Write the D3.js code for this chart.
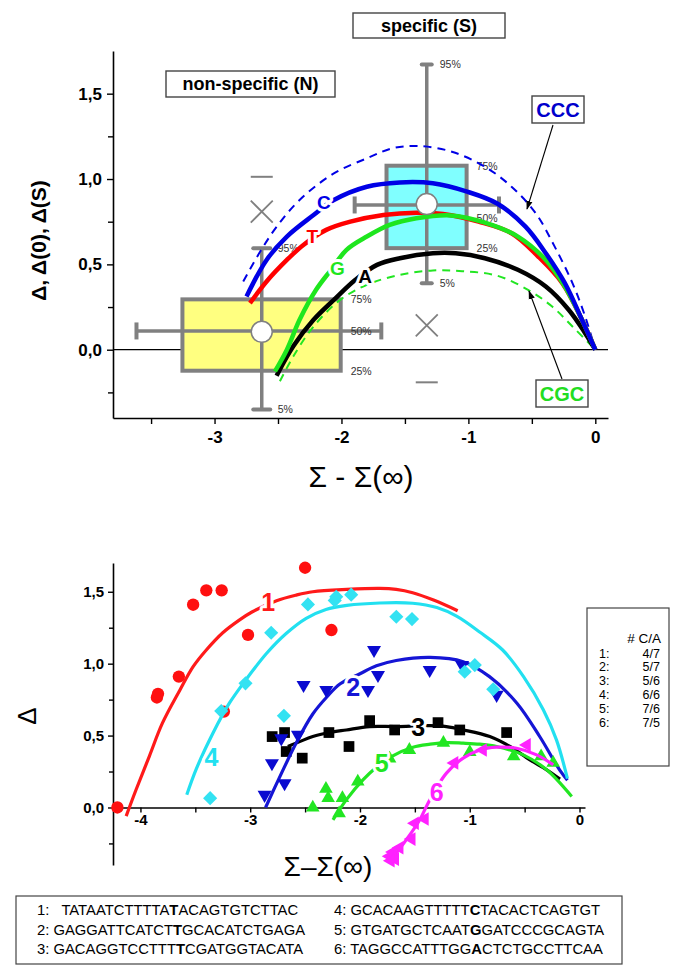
<!DOCTYPE html>
<html>
<head>
<meta charset="utf-8">
<script src="https://cdn.jsdelivr.net/npm/d3@7"></script>
<style>
  body { margin: 0; background: #fff; }
  svg text { font-family: "Liberation Sans", Arial, sans-serif; }
</style>
</head>
<body>
<div id="chart"></div>
<script>
// ---------- top panel: model curves, [Σ-Σ(∞), Δ] ----------
const curveC   = [[-2.748,0.312],[-2.59,0.526],[-2.43,0.663],[-2.22,0.789],[-2.06,0.877],[-1.80,0.955],[-1.54,0.98],[-1.28,0.975],[-1.01,0.926],[-0.77,0.855],[-0.55,0.721],[-0.39,0.565],[-0.24,0.39],[-0.105,0.175],[0,0]];
const curveT   = [[-2.721,0.273],[-2.59,0.40],[-2.43,0.526],[-2.30,0.614],[-2.12,0.702],[-1.93,0.75],[-1.67,0.789],[-1.41,0.803],[-1.2,0.795],[-0.92,0.75],[-0.66,0.682],[-0.45,0.546],[-0.26,0.39],[-0.105,0.175],[0,0]];
const curveG   = [[-2.524,-0.127],[-2.43,0.0],[-2.33,0.175],[-2.20,0.351],[-2.08,0.47],[-1.96,0.585],[-1.80,0.663],[-1.62,0.731],[-1.41,0.77],[-1.14,0.787],[-0.87,0.745],[-0.61,0.663],[-0.39,0.526],[-0.24,0.37],[-0.105,0.175],[0,0]];
const curveA   = [[-2.511,-0.152],[-2.38,0.02],[-2.22,0.175],[-2.06,0.292],[-1.89,0.41],[-1.72,0.497],[-1.54,0.536],[-1.28,0.565],[-1.1,0.565],[-0.87,0.536],[-0.61,0.468],[-0.39,0.37],[-0.21,0.234],[-0.08,0.097],[0,0]];
const curveCCC = [[-2.774,0.40],[-2.64,0.575],[-2.51,0.721],[-2.33,0.877],[-2.06,1.033],[-1.80,1.121],[-1.6,1.18],[-1.39,1.193],[-1.13,1.16],[-0.87,1.072],[-0.66,0.955],[-0.47,0.80],[-0.32,0.604],[-0.18,0.39],[-0.08,0.195],[0,0]];
const curveCGC = [[-2.485,-0.185],[-2.38,-0.04],[-2.22,0.136],[-2.01,0.292],[-1.80,0.38],[-1.54,0.439],[-1.28,0.464],[-1.05,0.46],[-0.78,0.435],[-0.53,0.351],[-0.34,0.253],[-0.18,0.136],[0,0]];

const curveNames  = ["C", "T", "G", "A"];
const curveLabelX = [-2.138, -2.230, -2.033, -1.814];
const curveLabelY = [0.867, 0.667, 0.478, 0.429];

// box charts: non-specific (N), specific (S)
const boxNames = ["N", "S"];
const boxXmean = [-2.628, -1.328];
const boxXq1   = [-3.253, -1.645];
const boxXq3   = [-2.006, -1.014];
const boxXmin  = [-3.615, -1.896];
const boxXmax  = [-1.686, -0.759];
const boxYq1   = [-0.123, 0.595];
const boxYq3   = [0.295, 1.078];
const boxY5    = [-0.35, 0.39];
const boxY95   = [0.594, 1.671];
const boxYmed  = [0.11, 0.77];
const boxYmean = [0.105, 0.853];
const boxYbar  = [0.11, 0.848];
const boxCross = [0.809, 0.142];
const boxDash  = [1.013, -0.191];

// ---------- bottom panel: measured points and fits ----------
const pts1 = [[-4.21,0.0],[-3.85,0.765],[-3.84,0.79],[-3.65,0.91],[-3.52,1.41],[-3.40,1.51],[-3.26,1.51],[-3.24,0.667],[-3.02,1.20],[-2.50,1.667],[-2.26,1.234]];
const fit1 = [[-4.13,-0.06],[-4.04,0.123],[-3.92,0.354],[-3.80,0.586],[-3.64,0.817],[-3.52,0.979],[-3.40,1.095],[-3.25,1.215],[-3.10,1.303],[-2.98,1.361],[-2.76,1.438],[-2.58,1.477],[-2.43,1.50],[-2.12,1.516],[-1.82,1.523],[-1.67,1.516],[-1.52,1.493],[-1.33,1.442],[-1.11,1.368]];
const pts2 = [[-2.869,0.088],[-2.802,0.308],[-2.717,0.481],[-2.687,0.169],[-2.565,0.505],[-2.514,0.852],[-2.307,0.817],[-1.927,0.817],[-1.872,1.095],[-1.836,0.921],[-1.365,0.956],[-1.07,0.99],[-0.755,0.783]];
const fit2 = [[-2.86,0.0],[-2.72,0.23],[-2.58,0.45],[-2.43,0.65],[-2.30,0.77],[-2.18,0.86],[-2.0,0.93],[-1.85,0.985],[-1.67,1.022],[-1.36,1.044],[-1.06,1.014],[-0.82,0.91],[-0.57,0.725],[-0.36,0.49],[-0.18,0.26],[-0.11,0.19]];
const pts3 = [[-2.80,0.493],[-2.687,0.521],[-2.672,0.389],[-2.526,0.343],[-2.283,0.521],[-2.10,0.424],[-1.912,0.604],[-1.684,0.539],[-1.289,0.59],[-1.091,0.539],[-0.664,0.521]];
const fit3 = [[-2.657,0.424],[-2.55,0.458],[-2.43,0.493],[-2.277,0.521],[-2.125,0.539],[-1.912,0.5625],[-1.669,0.5625],[-1.365,0.569],[-1.213,0.5625],[-1.06,0.54],[-0.817,0.493],[-0.634,0.424],[-0.452,0.331],[-0.299,0.262],[-0.178,0.197]];
const pts4 = [[-3.365,0.065],[-3.264,0.671],[-3.043,0.863],[-2.809,1.215],[-2.693,0.637],[-2.474,1.412],[-2.23,1.44],[-2.216,1.465],[-2.08,1.48],[-1.669,1.326],[-1.526,1.31],[-1.046,0.944],[-0.954,0.99],[-0.786,0.822]];
const fit4 = [[-3.578,0.088],[-3.49,0.27],[-3.34,0.516],[-3.19,0.725],[-3.04,0.887],[-2.85,1.072],[-2.67,1.211],[-2.49,1.315],[-2.31,1.377],[-2.12,1.405],[-1.82,1.422],[-1.52,1.42],[-1.30,1.39],[-1.12,1.33],[-0.91,1.22],[-0.70,1.095],[-0.51,0.91],[-0.33,0.68],[-0.21,0.47],[-0.11,0.2]];
const pts5 = [[-2.43,0.0],[-2.31,0.13],[-2.29,0.065],[-2.16,0.065],[-2.19,-0.04],[-2.02,0.18],[-1.73,0.34],[-1.55,0.40],[-1.24,0.45],[-1.0,0.385],[-0.60,0.355],[-0.35,0.355],[-0.24,0.31]];
const fit5 = [[-2.246,-0.086],[-2.125,0.053],[-1.973,0.192],[-1.85,0.28],[-1.714,0.354],[-1.517,0.419],[-1.36,0.44],[-1.213,0.451],[-1.06,0.447],[-0.909,0.44],[-0.755,0.424],[-0.513,0.366],[-0.299,0.262],[-0.071,0.076]];
const pts6 = [[-1.41,-0.08],[-1.50,-0.11],[-1.53,-0.22],[-1.64,-0.28],[-1.70,-0.31],[-1.73,-0.34],[-1.68,-0.36],[-1.72,-0.37],[-1.14,0.31],[-0.88,0.40],[-0.48,0.435]];
const fit6 = [[-1.714,-0.363],[-1.577,-0.224],[-1.455,-0.085],[-1.38,0.03],[-1.30,0.14],[-1.212,0.239],[-1.06,0.343],[-0.908,0.40],[-0.755,0.419],[-0.573,0.412],[-0.39,0.366],[-0.239,0.297]];

const seriesIds    = ["1", "2", "3", "4", "5", "6"];
const seriesLabelX = [-2.837, -2.062, -1.469, -3.353, -1.803, -1.302];
const seriesLabelY = [1.43, 0.84, 0.5625, 0.354, 0.308, 0.111];
const ratioCA      = ["4/7", "5/7", "5/6", "6/6", "7/6", "7/5"];

const sequences = [
    "TATAATCTTTTATACAGTGTCTTAC",
    "GAGGATTCATCTTGCACATCTGAGA",
    "GACAGGTCCTTTTCGATGGTACATA",
    "GCACAAGTTTTTCTACACTCAGTGT",
    "GTGATGCTCAATGGATCCCGCAGTA",
    "TAGGCCATTTGGACTCTGCCTTCAA"
];

const xTickTop = [-3, -2, -1, 0],
      xMinorTop = [-3.5, -2.5, -1.5, -0.5],
      yTickTop = [0, 0.5, 1, 1.5],
      yMinorTop = [-0.25, 0.25, 0.75, 1.25];
const xTickBot = [-4, -3, -2, -1, 0],
      xMinorBot = [-3.5, -2.5, -1.5, -0.5],
      yTickBot = [0, 0.5, 1, 1.5],
      yMinorBot = [-0.25, 0.25, 0.75, 1.25];

const comma = function(d) { return d3.format(".1f")(d).replace(".", ","); };
const plain = function(d) { return String(d); };

const svg = d3.select("#chart").append("svg")
    .attr("width", 685)
    .attr("height", 978);

const defs = svg.append("defs");
defs.append("marker")
    .attr("id", "arrow")
    .attr("viewBox", "0 0 10 10")
    .attr("refX", 9).attr("refY", 5)
    .attr("markerWidth", 9).attr("markerHeight", 9)
    .attr("markerUnits", "userSpaceOnUse")
    .attr("orient", "auto")
    .append("path")
    .attr("d", "M0,1.5L10,5L0,8.5Z")
    .attr("fill", "#000");

function styleAxis(g, size, bold) {
    g.attr("font-family", null).attr("font-size", null);
    g.select(".domain").attr("stroke", "#000").attr("stroke-width", 1.6);
    g.selectAll(".tick line").attr("stroke", "#000").attr("stroke-width", 1.4);
    g.selectAll(".tick text")
        .attr("font-size", size)
        .attr("font-weight", bold ? "bold" : null)
        .attr("fill", "#000");
}

function halo(sel) {
    return sel.attr("stroke", "#fff")
        .attr("stroke-width", 6)
        .attr("stroke-linejoin", "round")
        .attr("paint-order", "stroke");
}

// ================= TOP PANEL =================
const xTop = d3.scaleLinear().domain([-3.8, 0.1]).range([113, 608]),
      yTop = d3.scaleLinear().domain([-0.4, 1.75]).range([418, 51]);

const topG = svg.append("g");

topG.append("g")
    .attr("transform", `translate(0,${yTop.range()[0]})`)
    .call(d3.axisBottom(xTop).tickValues(xMinorTop).tickFormat("").tickSize(6).tickSizeOuter(0))
    .call(function(g) { styleAxis(g, 16, true); });
topG.append("g")
    .attr("transform", `translate(0,${yTop.range()[0]})`)
    .call(d3.axisBottom(xTop).tickValues(xTickTop).tickFormat(plain).tickSize(6).tickPadding(7).tickSizeOuter(0))
    .call(function(g) { styleAxis(g, 17, true); g.select(".domain").remove(); });
topG.append("g")
    .attr("transform", `translate(${xTop.range()[0]},0)`)
    .call(d3.axisLeft(yTop).tickValues(yMinorTop).tickFormat("").tickSize(5).tickSizeOuter(0))
    .call(function(g) { styleAxis(g, 16, true); });
topG.append("g")
    .attr("transform", `translate(${xTop.range()[0]},0)`)
    .call(d3.axisLeft(yTop).tickValues(yTickTop).tickFormat(comma).tickSize(6).tickPadding(5).tickSizeOuter(0))
    .call(function(g) { styleAxis(g, 17, true); g.select(".domain").remove(); });

topG.append("line")
    .attr("x1", xTop.range()[0]).attr("x2", xTop.range()[1])
    .attr("y1", yTop(0)).attr("y2", yTop(0))
    .attr("stroke", "#000").attr("stroke-width", 1.3);

topG.append("text")
    .attr("transform", `translate(46,${(yTop.range()[0] + yTop.range()[1]) / 2 + 6}) rotate(-90)`)
    .attr("text-anchor", "middle")
    .attr("font-size", 21).attr("font-weight", "bold")
    .text("Δ, Δ(0), Δ(S)");

topG.append("text")
    .attr("x", 361).attr("y", 487)
    .attr("text-anchor", "middle")
    .attr("font-size", 30)
    .text("Σ - Σ(∞)");

// box charts
const boxFill = ["#ffff80", "#80ffff"],
      capW = [17, 10],
      gray = "#808080";

topG.append("g")
    .selectAll("g")
    .data(boxNames)
    .join("g")
    .each(function(name, i) {
        const g = d3.select(this);
        const cx = xTop(boxXmean[i]);
        g.append("rect")
            .attr("x", xTop(boxXq1[i]))
            .attr("y", yTop(boxYq3[i]))
            .attr("width", xTop(boxXq3[i]) - xTop(boxXq1[i]))
            .attr("height", yTop(boxYq1[i]) - yTop(boxYq3[i]))
            .attr("fill", boxFill[i])
            .attr("stroke", gray).attr("stroke-width", 4);
        // vertical whisker
        g.append("line")
            .attr("x1", cx).attr("x2", cx)
            .attr("y1", yTop(boxY95[i])).attr("y2", yTop(boxY5[i]))
            .attr("stroke", gray).attr("stroke-width", 3.5);
        [boxY95[i], boxY5[i]].forEach(function(v) {
            g.append("line")
                .attr("x1", cx - capW[i] / 2).attr("x2", cx + capW[i] / 2)
                .attr("y1", yTop(v)).attr("y2", yTop(v))
                .attr("stroke", gray).attr("stroke-width", 4).attr("stroke-linecap", "round");
        });
        // horizontal whisker
        const by = yTop(boxYbar[i]);
        g.append("line")
            .attr("x1", xTop(boxXmin[i])).attr("x2", xTop(boxXmax[i]))
            .attr("y1", by).attr("y2", by)
            .attr("stroke", gray).attr("stroke-width", 3.5);
        [boxXmin[i], boxXmax[i]].forEach(function(v) {
            g.append("line")
                .attr("x1", xTop(v)).attr("x2", xTop(v))
                .attr("y1", by - 8.5).attr("y2", by + 8.5)
                .attr("stroke", gray).attr("stroke-width", 4);
        });
        // 1%/99% cross and min/max dash
        const cy = yTop(boxCross[i]);
        g.append("path")
            .attr("d", `M${cx - 11},${cy - 11}L${cx + 11},${cy + 11}M${cx - 11},${cy + 11}L${cx + 11},${cy - 11}`)
            .attr("stroke", gray).attr("stroke-width", 1.8);
        g.append("line")
            .attr("x1", cx - 11).attr("x2", cx + 11)
            .attr("y1", yTop(boxDash[i])).attr("y2", yTop(boxDash[i]))
            .attr("stroke", gray).attr("stroke-width", 2);
        // percent labels
        const rx = xTop(boxXq3[i]) + 10,
              wx = cx + (i === 0 ? 16 : 13);
        const pl = [[wx, boxY95[i], "95%"], [rx, boxYq3[i], "75%"], [rx, boxYmed[i], "50%"],
                    [rx, boxYq1[i], "25%"], [wx, boxY5[i], "5%"]];
        pl.forEach(function(p) {
            g.append("text")
                .attr("x", p[0]).attr("y", yTop(p[1]) + 4)
                .attr("font-size", 10.5).attr("fill", "#333")
                .text(p[2]);
        });
    });

// curves
const lineTop = d3.line()
    .curve(d3.curveCatmullRom)
    .x(function(d) { return xTop(d[0]); })
    .y(function(d) { return yTop(d[1]); });

const topCurves = [
    { key: "CGC", data: curveCGC, stroke: "#22e622", width: 2, dash: "8,6" },
    { key: "CCC", data: curveCCC, stroke: "#0000e6", width: 2, dash: "8,6" },
    { key: "A", data: curveA, stroke: "#000000", width: 4.5, dash: null },
    { key: "T", data: curveT, stroke: "#ff0000", width: 4.5, dash: null },
    { key: "G", data: curveG, stroke: "#1ee61e", width: 4.5, dash: null },
    { key: "C", data: curveC, stroke: "#0000e6", width: 4.5, dash: null }
];

topG.append("g")
    .selectAll("path")
    .data(topCurves)
    .join("path")
    .attr("d", function(d) { return lineTop(d.data); })
    .attr("fill", "none")
    .attr("stroke", function(d) { return d.stroke; })
    .attr("stroke-width", function(d) { return d.width; })
    .attr("stroke-dasharray", function(d) { return d.dash ? d.dash : null; })
    .attr("stroke-linecap", "butt");

const curveColour = { C: "#0000e6", T: "#ff0000", G: "#1ee61e", A: "#000000" };
topG.append("g")
    .selectAll("text")
    .data(curveNames)
    .join("text")
    .attr("x", function(d, i) { return xTop(curveLabelX[i]); })
    .attr("y", function(d, i) { return yTop(curveLabelY[i]) + 7; })
    .attr("text-anchor", "middle")
    .attr("font-size", 19).attr("font-weight", "bold")
    .attr("fill", function(d) { return curveColour[d]; })
    .call(halo)
    .text(function(d) { return d; });

// mean circles on top of the whiskers
topG.append("g")
    .selectAll("circle")
    .data(boxNames)
    .join("circle")
    .attr("cx", function(d, i) { return xTop(boxXmean[i]); })
    .attr("cy", function(d, i) { return yTop(boxYmean[i]); })
    .attr("r", 10.5)
    .attr("fill", "#fff")
    .attr("stroke", gray).attr("stroke-width", 1.5);

// title boxes
const titleBoxes = [
    { text: "specific (S)", x: 353, y: 13, w: 152, h: 25, colour: "#000", size: 18 },
    { text: "non-specific (N)", x: 166, y: 71, w: 169, h: 26, colour: "#000", size: 18 },
    { text: "CCC", x: 532, y: 96, w: 52, h: 27, colour: "#0000cc", size: 20 },
    { text: "CGC", x: 536, y: 380, w: 52, h: 27, colour: "#22dd22", size: 20 }
];
topG.append("g")
    .selectAll("g")
    .data(titleBoxes)
    .join("g")
    .call(function(g) {
        g.append("rect")
            .attr("x", function(d) { return d.x; })
            .attr("y", function(d) { return d.y; })
            .attr("width", function(d) { return d.w; })
            .attr("height", function(d) { return d.h; })
            .attr("fill", "#fff")
            .attr("stroke", "#444").attr("stroke-width", 1.4);
        g.append("text")
            .attr("x", function(d) { return d.x + d.w / 2; })
            .attr("y", function(d) { return d.y + d.h / 2 + d.size * 0.36; })
            .attr("text-anchor", "middle")
            .attr("font-size", function(d) { return d.size; })
            .attr("font-weight", "bold")
            .attr("fill", function(d) { return d.colour; })
            .text(function(d) { return d.text; });
    });

topG.append("line")
    .attr("x1", 553).attr("y1", 125).attr("x2", 527).attr("y2", 209)
    .attr("stroke", "#000").attr("stroke-width", 1.1).attr("marker-end", "url(#arrow)");
topG.append("line")
    .attr("x1", 562).attr("y1", 379).attr("x2", 529).attr("y2", 291)
    .attr("stroke", "#000").attr("stroke-width", 1.1).attr("marker-end", "url(#arrow)");

// ================= BOTTOM PANEL =================
const xBot = d3.scaleLinear().domain([-4.25, 0.05]).range([113, 585]),
      yBot = d3.scaleLinear().domain([-0.4, 1.7]).range([865, 563]);

const botG = svg.append("g");

botG.append("g")
    .attr("transform", `translate(0,${yBot(0)})`)
    .call(d3.axisBottom(xBot).tickValues(xMinorBot).tickFormat("").tickSize(5).tickSizeOuter(0))
    .call(function(g) { styleAxis(g, 15, true); });
botG.append("g")
    .attr("transform", `translate(0,${yBot(0)})`)
    .call(d3.axisBottom(xBot).tickValues(xTickBot).tickFormat(plain).tickSize(5).tickPadding(2).tickSizeOuter(0))
    .call(function(g) { styleAxis(g, 15, true); g.select(".domain").remove(); });
botG.append("g")
    .attr("transform", `translate(${xBot.range()[0]},0)`)
    .call(d3.axisLeft(yBot).tickValues(yMinorBot).tickFormat("").tickSize(4).tickSizeOuter(0))
    .call(function(g) { styleAxis(g, 15, true); });
botG.append("g")
    .attr("transform", `translate(${xBot.range()[0]},0)`)
    .call(d3.axisLeft(yBot).tickValues(yTickBot).tickFormat(comma).tickSize(5).tickPadding(4).tickSizeOuter(0))
    .call(function(g) { styleAxis(g, 15, true); g.select(".domain").remove(); });

botG.append("text")
    .attr("transform", "translate(36,716) rotate(-90)")
    .attr("text-anchor", "middle")
    .attr("font-size", 26)
    .text("Δ");

botG.append("text")
    .attr("x", 328).attr("y", 876)
    .attr("text-anchor", "middle")
    .attr("font-size", 28)
    .text("Σ–Σ(∞)");

const lineBot = d3.line()
    .curve(d3.curveCatmullRom)
    .x(function(d) { return xBot(d[0]); })
    .y(function(d) { return yBot(d[1]); });

const series = [
    { key: "1", pts: pts1, fit: fit1, fill: "#ff1010", stroke: "#ff1a1a", symbol: d3.symbolCircle, size: 120, rotate: 0 },
    { key: "3", pts: pts3, fit: fit3, fill: "#000000", stroke: "#000000", symbol: d3.symbolSquare, size: 115, rotate: 0 },
    { key: "2", pts: pts2, fit: fit2, fill: "#0a0ad0", stroke: "#1515d5", symbol: d3.symbolTriangle, size: 85, rotate: 180 },
    { key: "4", pts: pts4, fit: fit4, fill: "#33e2f2", stroke: "#22e0f0", symbol: d3.symbolSquare, size: 100, rotate: 45 },
    { key: "5", pts: pts5, fit: fit5, fill: "#22e622", stroke: "#22e622", symbol: d3.symbolTriangle, size: 80, rotate: 0 },
    { key: "6", pts: pts6, fit: fit6, fill: "#ff22ff", stroke: "#ff22ff", symbol: d3.symbolTriangle, size: 80, rotate: -90 }
];

const sg = botG.append("g")
    .selectAll("g")
    .data(series)
    .join("g")
    .attr("class", "series")
    .attr("id", function(d) { return "series-" + d.key; });

sg.append("path")
    .attr("d", function(d) { return lineBot(d.fit); })
    .attr("fill", "none")
    .attr("stroke", function(d) { return d.stroke; })
    .attr("stroke-width", 3.2);

sg.each(function(d) {
    d3.select(this).selectAll("path.point")
        .data(d.pts)
        .join("path")
        .attr("class", "point")
        .attr("d", d3.symbol().type(d.symbol).size(d.size))
        .attr("transform", function(p) {
            return `translate(${xBot(p[0])},${yBot(p[1])}) rotate(${d.rotate})`;
        })
        .attr("fill", d.fill);
});

const seriesColour = { "1": "#ff1a1a", "2": "#1515d5", "3": "#000", "4": "#22e0f0", "5": "#22e622", "6": "#ff22ff" };
botG.append("g")
    .selectAll("text")
    .data(seriesIds)
    .join("text")
    .attr("x", function(d, i) { return xBot(seriesLabelX[i]); })
    .attr("y", function(d, i) { return yBot(seriesLabelY[i]) + 9; })
    .attr("text-anchor", "middle")
    .attr("font-size", 25).attr("font-weight", "bold")
    .attr("fill", function(d) { return seriesColour[d]; })
    .call(halo)
    .text(function(d) { return d; });

// legend of C/A counts
const leg = botG.append("g");
leg.append("rect")
    .attr("x", 587).attr("y", 608).attr("width", 82).attr("height", 158)
    .attr("fill", "#fff").attr("stroke", "#444").attr("stroke-width", 1.2);
leg.append("text")
    .attr("x", 661).attr("y", 643)
    .attr("text-anchor", "end").attr("font-size", 13.5)
    .text("# C/A");
leg.selectAll("g.row")
    .data(seriesIds)
    .join("g")
    .attr("class", "row")
    .attr("transform", function(d, i) { return `translate(0,${657.5 + i * 13.9})`; })
    .call(function(g) {
        g.append("text").attr("x", 599).attr("font-size", 12.5)
            .text(function(d) { return d + ":"; });
        g.append("text").attr("x", 660).attr("text-anchor", "end").attr("font-size", 12.5)
            .text(function(d, i) { return ratioCA[i]; });
    });

// sequence box
const seq = svg.append("g");
seq.append("rect")
    .attr("x", 16).attr("y", 896).attr("width", 606).attr("height", 68)
    .attr("fill", "#fff").attr("stroke", "#444").attr("stroke-width", 1.2);

const seqPrefix = ["1:   ", "2: ", "3: ", "4: ", "5: ", "6: "];
seq.selectAll("text")
    .data(sequences)
    .join("text")
    .attr("x", function(d, i) { return i < 3 ? 37 : 334; })
    .attr("y", function(d, i) { return 915 + (i % 3) * 19.5; })
    .attr("font-size", 14.8)
    .style("white-space", "pre")
    .each(function(d, i) {
        const t = d3.select(this);
        t.append("tspan").text(seqPrefix[i] + d.slice(0, 12));
        t.append("tspan").attr("font-weight", "bold").text(d.slice(12, 13));
        t.append("tspan").text(d.slice(13));
    });
</script>
</body>
</html>
